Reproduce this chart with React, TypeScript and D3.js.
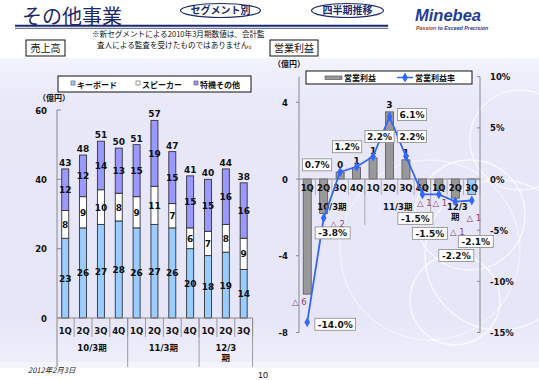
import React from "react";
import * as d3 from "d3";

const categories = ["1Q", "2Q", "3Q", "4Q", "1Q", "2Q", "3Q", "4Q", "1Q", "2Q", "3Q"];
const fiscalGroups = ["10/3期", "11/3期", "12/3期"];
const groupSizes = [4, 4, 3];

const keyboard = [23, 26, 27, 28, 26, 27, 26, 20, 18, 19, 14];
const speaker = [8, 9, 10, 8, 9, 11, 7, 6, 7, 8, 9];
const tokki = [12, 12, 14, 13, 15, 19, 15, 15, 15, 16, 16];
const salesTotal = [43, 48, 51, 50, 51, 57, 47, 41, 40, 44, 38];

const opProfit = [-6.0, -1.8, 0.36, 0.6, 1.1, 3.5, 1.0, -0.6, -0.6, -1.0, -0.8];
const opProfitLabels = ["△ 6", "△ 2", "0", "1", "1", "3", "1", "△ 1", "△ 1", "△ 1", "△ 1"];
const opMargin = [-14.0, -3.8, 0.7, 1.2, 2.2, 6.1, 2.2, -1.5, -1.5, -2.2, -2.1];

const salesTicks = [0, 20, 40, 60];
const profitTicks = [-8, -4, 0, 4];
const marginTicks = [-15, -10, -5, 0, 5, 10];

const seriesNames = ["キーボード", "スピーカー", "特機その他"];
const seriesColors = ["#99ccff", "#ffffff", "#9999ff"];

// layout offsets for the margin data labels (relative to the point)
const marginLabelOffsets: [number, number][] = [
  [28, 2], [9, 15], [-23, -7], [-9.5, -20], [6.5, -20], [22.5, -2],
  [6, -20], [-7, 24], [-9, 39], [1, 54], [4, 41],
];
// layout offsets for negative profit labels (relative to bar end)
const profitNegOffsets: [number, number][] = [
  [-8, 8], [14, 10], [0, 0], [0, 0], [0, 0], [0, 0], [0, 0],
  [2, 12], [1, 12], [2, 34], [2, 24],
];

const NUM = "'DejaVu Sans', 'Noto Sans CJK JP', sans-serif";
const JP = "'Noto Sans CJK JP', sans-serif";

export default function App() {
  const W = 539, H = 380;
  const idx = categories.map((_, i) => i);

  // ---------- left chart scales
  const xL = d3.scaleBand<number>().domain(idx).range([56.3, 252.6]);
  const yL = d3.scaleLinear().domain([0, 60]).range([318, 110]);
  const stackData = idx.map((i) => ({ i, k: keyboard[i], s: speaker[i], t: tokki[i] }));
  const stack = d3.stack<any>().keys(["k", "s", "t"])(stackData);
  const bwL = 7;

  // ---------- right chart scales
  const xR = d3.scaleBand<number>().domain(idx).range([299, 480]);
  const yR = d3.scaleLinear().domain([-8, 16 / 3]).range([332.5, 76.7]);
  const yP = d3.scaleLinear().domain([-15, 10]).range([332.5, 76.7]);
  const bwR = 8;
  const fmtPct = (v: number) => v.toFixed(1) + "%";
  const line = d3
    .line<number>()
    .x((_, i) => xR(i)! + xR.bandwidth() / 2)
    .y((d) => yP(d));
  const diamond = d3.symbol(d3.symbolDiamond, 28)()!;

  // group boundaries
  const groupStarts: number[] = [];
  groupSizes.reduce((acc, s) => {
    groupStarts.push(acc);
    return acc + s;
  }, 0);

  const groupLabel = (g: string, width: number) =>
    width < 60 ? g.replace("期", "\n期").split("\n") : [g];

  return (
    <svg
      width={W}
      height={H}
      style={{ position: "absolute", left: 0, top: 0 }}
      xmlns="http://www.w3.org/2000/svg"
    >
      <defs>
        <linearGradient id="panel" x1="0" y1="0" x2="0" y2="1">
          <stop offset="0" stopColor="#f3f3fd" />
          <stop offset="0.15" stopColor="#e8e8f9" />
          <stop offset="0.85" stopColor="#e6e6f8" />
          <stop offset="1" stopColor="#eeeefb" />
        </linearGradient>
      </defs>
      <rect x={0} y={0} width={W} height={H} fill="#ffffff" />
      <rect x={0} y={58} width={W} height={304} fill="url(#panel)" />
      <rect x={0} y={362} width={W} height={6} fill="#f4f4fc" />

      {/* decorative circles */}
      <g fill="none" stroke="#ffffff" strokeOpacity={0.75} strokeWidth={1.3}>
        <circle cx={500} cy={255} r={75} />
        <circle cx={470} cy={215} r={55} />
        <circle cx={455} cy={300} r={45} />
        <circle cx={520} cy={140} r={50} />
        <circle cx={430} cy={250} r={90} strokeOpacity={0.5} />
      </g>

      {/* header */}
      <text x={22} y={23.5} fontFamily={JP} fontSize={20} fill="#1c2a6b">
        その他事業
      </text>
      <line x1={15} x2={388} y1={25.8} y2={25.8} stroke="#1c2a6b" strokeWidth={2} />
      <line x1={15} x2={388} y1={28.3} y2={28.3} stroke="#1c2a6b" strokeWidth={0.8} />
      <ellipse cx={220.5} cy={10.5} rx={40} ry={7} fill="#fff" stroke="#1c2a6b" strokeWidth={1.2} />
      <text x={220.5} y={14} textAnchor="middle" fontFamily={JP} fontSize={10} fill="#1c2a6b" fontWeight="bold">
        セグメント別
      </text>
      <ellipse cx={347.5} cy={10.5} rx={36} ry={7} fill="#fff" stroke="#1c2a6b" strokeWidth={1.2} />
      <text x={347.5} y={14} textAnchor="middle" fontFamily={JP} fontSize={10} fill="#1c2a6b" fontWeight="bold">
        四半期推移
      </text>
      <text x={415} y={21} fontFamily="'Liberation Sans', Arial, sans-serif" fontSize={16.5} fontWeight="bold" fontStyle="italic" fill="#1f3c99">
        Minebea
      </text>
      <text x={416} y={29.5} fontFamily="'Liberation Sans', Arial, sans-serif" fontSize={5.3} fontWeight="bold" fontStyle="italic" fill="#1f3c99">
        <tspan fill="#a0402a">Passion</tspan> to Exceed Precision
      </text>

      <text x={92} y={37} fontFamily={JP} fontSize={7.6} fill="#111">
        ※新セグメントによる2010年3月期数値は、会計監
      </text>
      <text x={97} y={48} fontFamily={JP} fontSize={7.6} fill="#111">
        査人による監査を受けたものではありません。
      </text>
      <rect x={26} y={40} width={39} height={16} fill="#fff" stroke="#111" strokeWidth={1} />
      <text x={45.5} y={52} textAnchor="middle" fontFamily={JP} fontSize={10} fill="#111">
        売上高
      </text>
      <rect x={270} y={40} width={48} height={16} fill="#fff" stroke="#111" strokeWidth={1} />
      <text x={294} y={52} textAnchor="middle" fontFamily={JP} fontSize={10} fill="#111">
        営業利益
      </text>

      {/* ================= LEFT CHART ================= */}
      <rect x={58} y={76} width={193} height={16} fill="#fff" stroke="#111" strokeWidth={1} />
      {seriesNames.map((n, i) => {
        const x0 = [71, 136, 194][i];
        return (
          <g key={n}>
            <rect x={x0} y={81} width={4} height={4} fill={seriesColors[i]} stroke="#555" strokeWidth={0.6} />
            <text x={x0 + 6} y={87.5} fontFamily={JP} fontSize={8} fontWeight="bold" fill="#111">
              {n}
            </text>
          </g>
        );
      })}
      <text x={38} y={101} fontFamily={JP} fontSize={8} fontWeight="bold" fill="#111">
        （億円）
      </text>
      <line x1={57} x2={57} y1={yL(60)} y2={367} stroke="#888" strokeWidth={1} />
      {salesTicks.map((t) => (
        <g key={t}>
          <line x1={57} x2={61} y1={yL(t)} y2={yL(t)} stroke="#888" />
          <text x={47} y={yL(t) + 3.5} textAnchor="end" fontFamily={NUM} fontSize={8.5} fontWeight="bold" fill="#111">
            {t}
          </text>
        </g>
      ))}
      {stack.map((layer, li) =>
        layer.map((d, i) => {
          const cx = xL(i)! + xL.bandwidth() / 2;
          return (
            <rect
              key={li + "-" + i}
              x={cx - bwL / 2}
              y={yL(d[1])}
              width={bwL}
              height={yL(d[0]) - yL(d[1])}
              fill={seriesColors[li]}
              stroke="#333"
              strokeWidth={0.9}
            />
          );
        })
      )}
      {stack.map((layer, li) =>
        layer.map((d, i) => {
          const cx = xL(i)! + xL.bandwidth() / 2;
          const v = d[1] - d[0];
          return (
            <text
              key={"t" + li + "-" + i}
              x={cx}
              y={yL((d[0] + d[1]) / 2) + 3.5}
              textAnchor="middle"
              fontFamily={NUM}
              fontSize={9}
              fontWeight="bold"
              fill="#111"
            >
              {v}
            </text>
          );
        })
      )}
      {salesTotal.map((v, i) => {
        const cx = xL(i)! + xL.bandwidth() / 2;
        const top = keyboard[i] + speaker[i] + tokki[i];
        return (
          <text key={"tot" + i} x={cx} y={yL(top) - 3} textAnchor="middle" fontFamily={NUM} fontSize={9} fontWeight="bold" fill="#111">
            {v}
          </text>
        );
      })}
      <line x1={57} x2={252.6} y1={318} y2={318} stroke="#888" />
      {idx.map((i) => (
        <line key={"sep" + i} x1={xL(i)! + xL.bandwidth()} x2={xL(i)! + xL.bandwidth()} y1={318} y2={337} stroke="#888" strokeWidth={0.8} />
      ))}
      {categories.map((c, i) => (
        <text key={"c" + i} x={xL(i)! + xL.bandwidth() / 2} y={334} textAnchor="middle" fontFamily={NUM} fontSize={8.5} fontWeight="bold" fill="#111">
          {c}
        </text>
      ))}
      {fiscalGroups.map((g, gi) => {
        const s = groupStarts[gi];
        const x0 = xL(s)!;
        const x1 = xL(s + groupSizes[gi] - 1)! + xL.bandwidth();
        const lines = groupLabel(g, x1 - x0);
        return (
          <g key={g}>
            <line x1={x1} x2={x1} y1={318} y2={367} stroke="#888" strokeWidth={0.8} />
            {lines.map((l, li) => (
              <text key={li} x={(x0 + x1) / 2} y={351 + li * 10} textAnchor="middle" fontFamily={NUM} fontSize={8.5} fontWeight="bold" fill="#111">
                {l}
              </text>
            ))}
          </g>
        );
      })}

      {/* ================= RIGHT CHART ================= */}
      <text x={273} y={67} fontFamily={JP} fontSize={8} fontWeight="bold" fill="#111">
        （億円）
      </text>
      <rect x={306} y={71} width={166} height={13} fill="#fff" stroke="#111" strokeWidth={1} />
      <rect x={325} y={76} width={17} height={3.5} fill="#999" stroke="#444" strokeWidth={0.6} />
      <text x={344} y={81} fontFamily={JP} fontSize={8} fontWeight="bold" fill="#111">
        営業利益
      </text>
      <line x1={397} x2={413} y1={77.5} y2={77.5} stroke="#3366ff" strokeWidth={1.5} />
      <path d={diamond} transform="translate(405,77.5)" fill="#3366ff" />
      <text x={415} y={81} fontFamily={JP} fontSize={8} fontWeight="bold" fill="#111">
        営業利益率
      </text>

      <line x1={299} x2={299} y1={yR(16 / 3)} y2={yR(-8)} stroke="#888" />
      <line x1={480} x2={480} y1={yP(10)} y2={yP(-15)} stroke="#888" />
      {profitTicks.map((t) => (
        <g key={"pt" + t}>
          <line x1={296} x2={299} y1={yR(t)} y2={yR(t)} stroke="#888" />
          <text x={288} y={yR(t) + 3.5} textAnchor="end" fontFamily={NUM} fontSize={8.5} fontWeight="bold" fill="#111">
            {t}
          </text>
        </g>
      ))}
      {marginTicks.map((t) => (
        <g key={"mt" + t}>
          <line x1={477} x2={480} y1={yP(t)} y2={yP(t)} stroke="#888" />
          <text x={490} y={yP(t) + 3.5} fontFamily={NUM} fontSize={8.5} fontWeight="bold" fill="#111">
            {t + "%"}
          </text>
        </g>
      ))}

      {opProfit.map((v, i) => {
        const cx = xR(i)! + xR.bandwidth() / 2;
        const y0 = yR(Math.max(0, v));
        const y1 = yR(Math.min(0, v));
        return (
          <rect
            key={"pb" + i}
            x={cx - bwR / 2}
            y={y0}
            width={bwR}
            height={y1 - y0}
            fill={i === opProfit.length - 1 ? "#99ccff" : "#999999"}
            stroke="#555"
            strokeWidth={0.8}
          />
        );
      })}
      <line x1={299} x2={480} y1={yR(0)} y2={yR(0)} stroke="#888" />
      {idx.map((i) => (
        <line key={"rsep" + i} x1={xR(i)! + xR.bandwidth()} x2={xR(i)! + xR.bandwidth()} y1={yR(0)} y2={yR(0) + 16} stroke="#999" strokeWidth={0.7} />
      ))}
      {categories.map((c, i) => (
        <text key={"rc" + i} x={xR(i)! + xR.bandwidth() / 2} y={yR(0) + 12} textAnchor="middle" fontFamily={NUM} fontSize={8.5} fontWeight="bold" fill="#111">
          {c}
        </text>
      ))}
      {fiscalGroups.map((g, gi) => {
        const s = groupStarts[gi];
        const x0 = xR(s)!;
        const x1 = xR(s + groupSizes[gi] - 1)! + xR.bandwidth();
        const lines = groupLabel(g, x1 - x0);
        return (
          <g key={"rg" + g}>
            {gi < fiscalGroups.length - 1 && (
              <line x1={x1} x2={x1} y1={yR(0)} y2={yR(0) + 46} stroke="#999" strokeWidth={0.8} />
            )}
            {lines.map((l, li) => (
              <text key={li} x={(x0 + x1) / 2 + (li === 0 && lines.length > 1 ? 2 : 0)} y={yR(0) + 31 + li * 10} textAnchor="middle" fontFamily={NUM} fontSize={8.5} fontWeight="bold" fill="#111">
                {l}
              </text>
            ))}
          </g>
        );
      })}

      {/* profit labels */}
      {opProfit.map((v, i) => {
        const cx = xR(i)! + xR.bandwidth() / 2;
        if (v >= 0) {
          return (
            <text key={"pl" + i} x={cx} y={yR(v) - 4} textAnchor="middle" fontFamily={NUM} fontSize={9} fontWeight="bold" fill="#111">
              {opProfitLabels[i]}
            </text>
          );
        }
        const [dx, dy] = profitNegOffsets[i];
        return (
          <text key={"pl" + i} x={cx + dx} y={yR(v) + dy + 3} textAnchor="middle" fontFamily={NUM} fontSize={8.5} fill="#8a3d78">
            {opProfitLabels[i]}
          </text>
        );
      })}

      {/* margin line */}
      <path d={line(opMargin)!} fill="none" stroke="#3366ff" strokeWidth={1.8} />
      {opMargin.map((v, i) => (
        <path key={"mk" + i} d={diamond} transform={`translate(${xR(i)! + xR.bandwidth() / 2},${yP(v)})`} fill="#3366ff" />
      ))}
      {opMargin.map((v, i) => {
        const cx = xR(i)! + xR.bandwidth() / 2 + marginLabelOffsets[i][0];
        const cy = yP(v) + marginLabelOffsets[i][1];
        const label = fmtPct(v);
        const w = label.length * 5.8 + 6;
        return (
          <g key={"ml" + i}>
            <rect x={cx - w / 2} y={cy - 6} width={w} height={12} fill="#fff" stroke="#888" strokeWidth={0.8} />
            <text x={cx} y={cy + 3.5} textAnchor="middle" fontFamily={NUM} fontSize={9} fontWeight="bold" fill="#111">
              {label}
            </text>
          </g>
        );
      })}

      {/* footer */}
      <text x={28} y={373} fontFamily={JP} fontSize={7.5} fontStyle="italic" fill="#222">
        2012年2月3日
      </text>
      <text x={258} y={378} fontFamily="'Liberation Sans', Arial, sans-serif" fontSize={9} fill="#111">
        10
      </text>
    </svg>
  );
}
